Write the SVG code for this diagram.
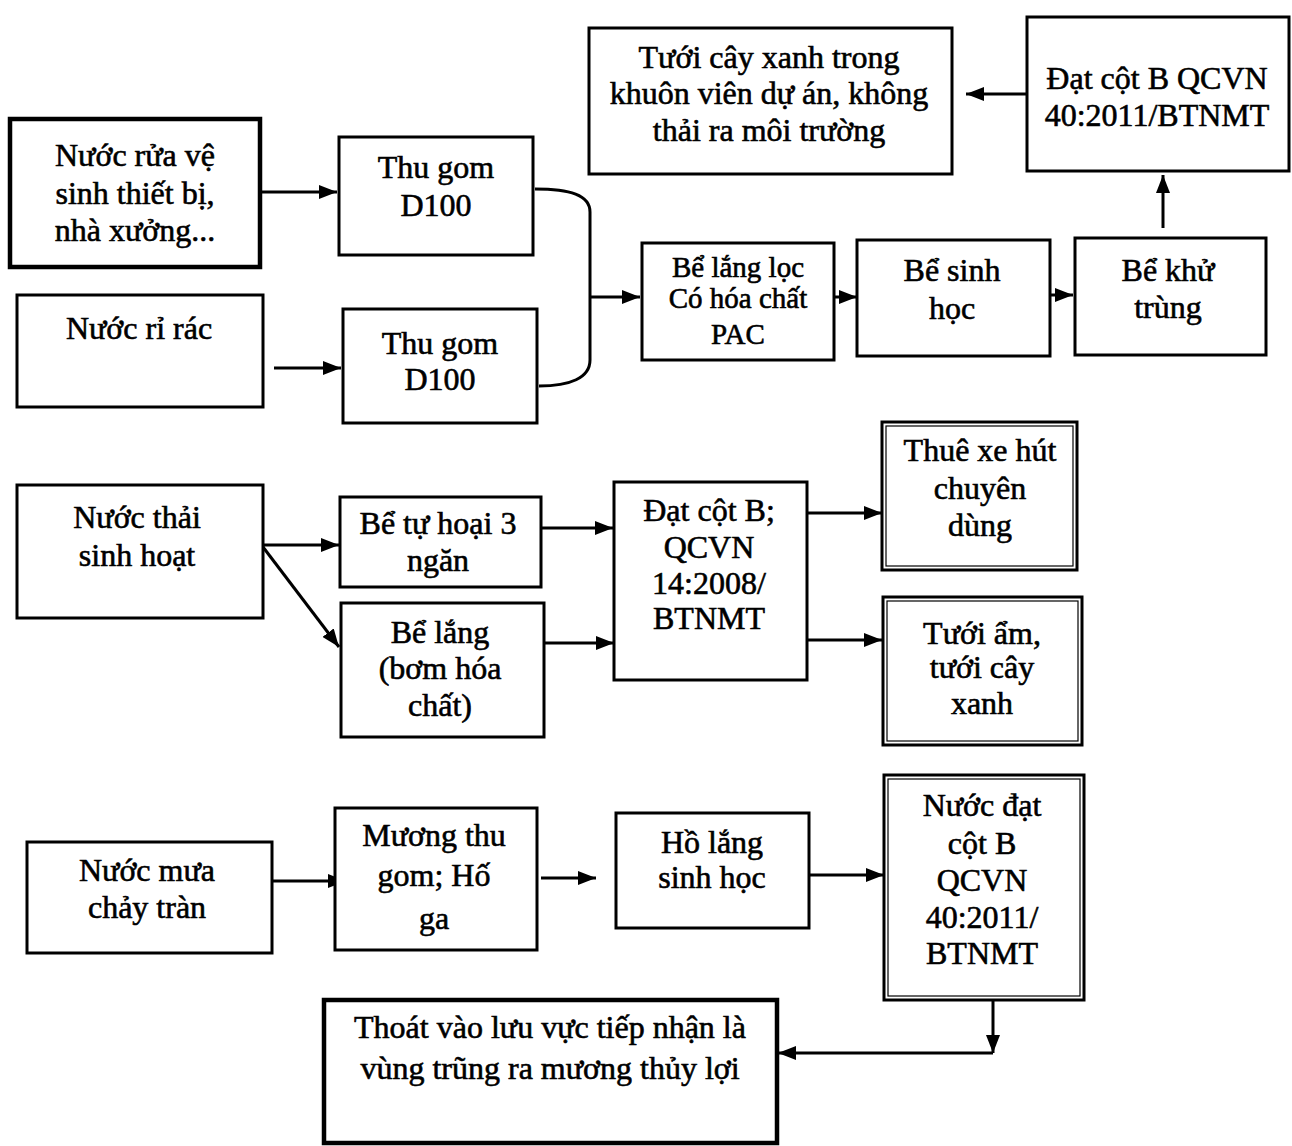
<svg xmlns="http://www.w3.org/2000/svg" width="1292" height="1146" viewBox="0 0 1292 1146">
<style>
.bx{fill:#fff;stroke:#000;stroke-width:3}
.bxt{fill:#fff;stroke:#000;stroke-width:4.5}
.in{fill:none;stroke:#000;stroke-width:1.2}
.t{font-family:"Liberation Serif","Times New Roman",serif;font-size:32px;fill:#000;text-anchor:middle;stroke:#000;stroke-width:0.6}
.s{font-size:29px}
.ln{fill:none;stroke:#000;stroke-width:3}
</style>
<defs>
<marker id="ah" viewBox="0 0 18 14" refX="18" refY="7" markerWidth="18" markerHeight="14" orient="auto" markerUnits="userSpaceOnUse">
<path d="M0,0 L18,7 L0,14 z" fill="#000"/>
</marker>
</defs>
<rect width="1292" height="1146" fill="#fff"/>

<g id="connectors">
<path class="ln" d="M261,192 L337,192" marker-end="url(#ah)"/>
<path class="ln" d="M274,368 L341,368" marker-end="url(#ah)"/>
<path class="ln" d="M535,189 C570,189 590,195 590,212 L590,360 C590,378 570,386 539,386"/>
<path class="ln" d="M590,297 L640,297" marker-end="url(#ah)"/>
<path class="ln" d="M834,297 L857,297" marker-end="url(#ah)"/>
<path class="ln" d="M1050,295 L1073,295" marker-end="url(#ah)"/>
<path class="ln" d="M1163,228 L1163,175" marker-end="url(#ah)"/>
<path class="ln" d="M1027,94 L966,94" marker-end="url(#ah)"/>
<path class="ln" d="M263,545 L339,545" marker-end="url(#ah)"/>
<path class="ln" d="M263,547 L339,647" marker-end="url(#ah)"/>
<path class="ln" d="M541,528 L613,528" marker-end="url(#ah)"/>
<path class="ln" d="M545,643 L614,643" marker-end="url(#ah)"/>
<path class="ln" d="M807,513 L882,513" marker-end="url(#ah)"/>
<path class="ln" d="M807,640 L882,640" marker-end="url(#ah)"/>
<path class="ln" d="M272,881 L346,881" marker-end="url(#ah)"/>
<path class="ln" d="M541,878 L596,878" marker-end="url(#ah)"/>
<path class="ln" d="M809,875 L884,875" marker-end="url(#ah)"/>
<path class="ln" d="M993,1000 L993,1053" marker-end="url(#ah)"/>
<path class="ln" d="M993,1053 L778,1053" marker-end="url(#ah)"/>
</g>

<g id="tuoi-cay-xanh">
<rect class="bx" x="589" y="28" width="363" height="146"/>
<text class="t" x="769" y="68">Tưới cây xanh trong</text>
<text class="t" x="769" y="104">khuôn viên dự án, không</text>
<text class="t" x="769" y="141">thải ra môi trường</text>
</g>

<g id="dat-cot-b-40-top">
<rect class="bx" x="1027" y="17" width="262" height="154"/>
<text class="t" x="1157" y="89">Đạt cột B QCVN</text>
<text class="t" x="1157" y="126">40:2011/BTNMT</text>
</g>

<g id="nuoc-rua">
<rect class="bxt" x="10" y="119" width="250" height="148"/>
<text class="t" x="135" y="166">Nước rửa vệ</text>
<text class="t" x="135" y="204">sinh thiết bị,</text>
<text class="t" x="135" y="241">nhà xưởng...</text>
</g>

<g id="thu-gom-1">
<rect class="bx" x="339" y="137" width="194" height="118"/>
<text class="t" x="436" y="178">Thu gom</text>
<text class="t" x="436" y="216">D100</text>
</g>

<g id="nuoc-ri-rac">
<rect class="bx" x="17" y="295" width="246" height="112"/>
<text class="t" x="139" y="339">Nước rỉ rác</text>
</g>

<g id="thu-gom-2">
<rect class="bx" x="343" y="309" width="194" height="114"/>
<text class="t" x="440" y="354">Thu gom</text>
<text class="t" x="440" y="390">D100</text>
</g>

<g id="be-lang-loc">
<rect class="bx" x="642" y="243" width="192" height="117"/>
<text class="t s" x="738" y="277">Bể lắng lọc</text>
<text class="t s" x="738" y="308">Có hóa chất</text>
<text class="t s" x="738" y="344">PAC</text>
</g>

<g id="be-sinh-hoc">
<rect class="bx" x="857" y="240" width="193" height="116"/>
<text class="t" x="952" y="281">Bể sinh</text>
<text class="t" x="952" y="319">học</text>
</g>

<g id="be-khu-trung">
<rect class="bx" x="1075" y="238" width="191" height="117"/>
<text class="t" x="1168" y="281">Bể khử</text>
<text class="t" x="1168" y="318">trùng</text>
</g>

<g id="nuoc-thai-sinh-hoat">
<rect class="bx" x="17" y="485" width="246" height="133"/>
<text class="t" x="137" y="528">Nước thải</text>
<text class="t" x="137" y="566">sinh hoạt</text>
</g>

<g id="be-tu-hoai">
<rect class="bx" x="340" y="497" width="201" height="90"/>
<text class="t" x="438" y="534">Bể tự hoại 3</text>
<text class="t" x="438" y="571">ngăn</text>
</g>

<g id="be-lang">
<rect class="bx" x="341" y="603" width="203" height="134"/>
<text class="t" x="440" y="643">Bể lắng</text>
<text class="t" x="440" y="679">(bơm hóa</text>
<text class="t" x="440" y="716">chất)</text>
</g>

<g id="dat-cot-b-14">
<rect class="bx" x="614" y="482" width="193" height="198"/>
<text class="t" x="709" y="521">Đạt cột B;</text>
<text class="t" x="709" y="558">QCVN</text>
<text class="t" x="709" y="594">14:2008/</text>
<text class="t" x="709" y="629">BTNMT</text>
</g>

<g id="thue-xe-hut">
<rect class="bx" x="882" y="422" width="195" height="148"/>
<rect class="in" x="886" y="426" width="187" height="140"/>
<text class="t" x="980" y="461">Thuê xe hút</text>
<text class="t" x="980" y="499">chuyên</text>
<text class="t" x="980" y="536">dùng</text>
</g>

<g id="tuoi-am">
<rect class="bx" x="883" y="597" width="199" height="148"/>
<rect class="in" x="887" y="601" width="191" height="140"/>
<text class="t" x="982" y="644">Tưới ẩm,</text>
<text class="t" x="982" y="678">tưới cây</text>
<text class="t" x="982" y="714">xanh</text>
</g>

<g id="nuoc-mua">
<rect class="bx" x="27" y="842" width="245" height="111"/>
<text class="t" x="147" y="881">Nước mưa</text>
<text class="t" x="147" y="918">chảy tràn</text>
</g>

<g id="muong-thu-gom">
<rect class="bx" x="335" y="808" width="202" height="142"/>
<text class="t" x="434" y="846">Mương thu</text>
<text class="t" x="434" y="886">gom; Hố</text>
<text class="t" x="434" y="929">ga</text>
</g>

<g id="ho-lang">
<rect class="bx" x="616" y="813" width="193" height="115"/>
<text class="t" x="712" y="853">Hồ lắng</text>
<text class="t" x="712" y="888">sinh học</text>
</g>

<g id="nuoc-dat-cot-b">
<rect class="bx" x="884" y="775" width="200" height="225"/>
<rect class="in" x="888" y="779" width="192" height="217"/>
<text class="t" x="982" y="816">Nước đạt</text>
<text class="t" x="982" y="854">cột B</text>
<text class="t" x="982" y="891">QCVN</text>
<text class="t" x="982" y="928">40:2011/</text>
<text class="t" x="982" y="964">BTNMT</text>
</g>

<g id="thoat-vao">
<rect class="bxt" x="324" y="1000" width="453" height="143"/>
<text class="t" x="550" y="1038">Thoát vào lưu vực tiếp nhận là</text>
<text class="t" x="550" y="1079">vùng trũng ra mương thủy lợi</text>
</g>
</svg>
